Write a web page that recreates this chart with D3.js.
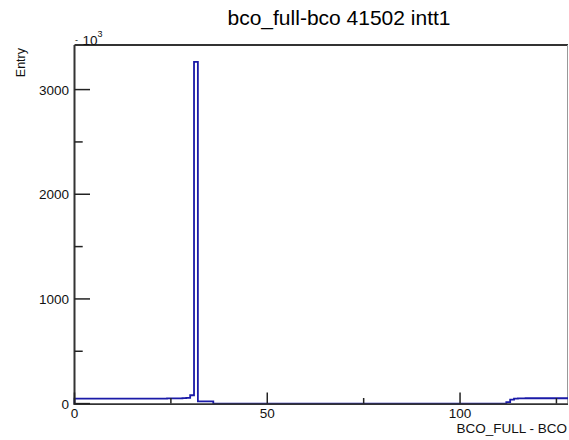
<!DOCTYPE html>
<html><head><meta charset="utf-8">
<script src="https://cdn.jsdelivr.net/npm/d3@7"></script>
<style>body{margin:0;background:#fff}svg{display:block}text{font-family:"Liberation Sans",Arial,sans-serif}</style>
</head><body>
<svg id="c" width="569" height="440"></svg>
<script>
const title = "bco_full-bco 41502 intt1";
const xTitle = "BCO_FULL - BCO";
const yTitle = "Entry";
const xMin = 0, xMax = 128;
const yMax = 3426;
const xMajorTicks = [0, 50, 100];
const xMidTicks = [25, 75, 125];
const yMajorTicks = [0, 1000, 2000, 3000];
const yMinorTicks = [500, 1500, 2500];
// bin contents (128 bins of width 1)
const counts = [
 47,47,47,47,47,47,47,47,47,47,
 47,47,47,47,47,47,47,47,48,48,
 48,48,48,48,49,49,49,50,52,55,
 80,3265,22,22,22,22,0,0,0,0,
 0,0,0,0,0,0,0,0,0,0,
 0,0,0,0,0,0,0,0,0,0,
 0,0,0,0,0,0,0,0,0,0,
 0,0,0,0,0,0,0,0,0,0,
 0,0,0,0,0,0,0,0,0,0,
 0,0,0,0,0,0,0,0,0,0,
 0,0,0,0,0,0,0,0,0,0,
 0,0,15,38,48,50,50,51,51,51,
 51,51,51,51,51,51,51,51
];

const svg = d3.select("#c");
const x = d3.scaleLinear().domain([xMin, xMax]).range([74.5, 568]);
const y = d3.scaleLinear().domain([0, yMax]).range([403.6, 45]);

// frame
svg.append("line").attr("x1",74.5).attr("x2",568).attr("y1",45).attr("y2",45).attr("stroke","#333").attr("stroke-width",2);
svg.append("line").attr("x1",567.5).attr("x2",567.5).attr("y1",45).attr("y2",403.6).attr("stroke","#999").attr("stroke-width",1);

// histogram step path
const pts = [];
pts.push([x(0), y(0)]);
counts.forEach((c,i)=>{ pts.push([x(i), y(c)]); pts.push([x(i+1), y(c)]); });
svg.append("path").attr("d", d3.line()(pts)).attr("fill","none").attr("stroke","#1a1aa8").attr("stroke-width",1.8);

// axes lines
svg.append("line").attr("x1",74.5).attr("x2",74.5).attr("y1",45).attr("y2",404.6).attr("stroke","#333").attr("stroke-width",2);
svg.append("line").attr("x1",73.5).attr("x2",568).attr("y1",404.1).attr("y2",404.1).attr("stroke","#333").attr("stroke-width",1.6);

// x ticks
xMajorTicks.forEach(v=>{
  svg.append("line").attr("x1",x(v)).attr("x2",x(v)).attr("y1",403.6).attr("y2",392.5).attr("stroke","#222").attr("stroke-width",1.5);
});
xMidTicks.forEach(v=>{
  svg.append("line").attr("x1",x(v)).attr("x2",x(v)).attr("y1",403.6).attr("y2",398).attr("stroke","#222").attr("stroke-width",1.5);
});
svg.selectAll(".xl").data(xMajorTicks).enter().append("text")
  .attr("x",d=>x(d)).attr("y",418).attr("text-anchor","middle").attr("font-size","13.5px").attr("fill","#111").text(d=>d);

// y ticks
yMajorTicks.forEach(v=>{
  svg.append("line").attr("x1",74.5).attr("x2",90).attr("y1",y(v)).attr("y2",y(v)).attr("stroke","#222").attr("stroke-width",1.5);
});
yMinorTicks.forEach(v=>{
  svg.append("line").attr("x1",74.5).attr("x2",82.7).attr("y1",y(v)).attr("y2",y(v)).attr("stroke","#222").attr("stroke-width",1.5);
});
svg.selectAll(".yl").data(yMajorTicks).enter().append("text")
  .attr("x",69).attr("y",d=>y(d)+5).attr("text-anchor","end").attr("font-size","13.5px").attr("fill","#111").text(d=>String(d));

// exponent label
svg.append("text").attr("x",75).attr("y",43).attr("font-size","9px").attr("fill","#111").text("-");
const ex = svg.append("text").attr("x",82.5).attr("y",44.5).attr("font-size","13.5px").attr("fill","#111");
ex.append("tspan").text("10");
ex.append("tspan").attr("dy",-8).attr("font-size","9px").text("3");

// titles
svg.append("text").attr("x",339).attr("y",25).attr("text-anchor","middle").attr("font-size","21px").attr("fill","#000").text(title);
svg.append("text").attr("x",567).attr("y",433).attr("text-anchor","end").attr("font-size","13.5px").attr("fill","#111").text(xTitle);
svg.append("text").attr("transform","translate(25,48) rotate(-90)").attr("text-anchor","end").attr("font-size","12.5px").attr("fill","#111").text(yTitle);
</script>
</body></html>
